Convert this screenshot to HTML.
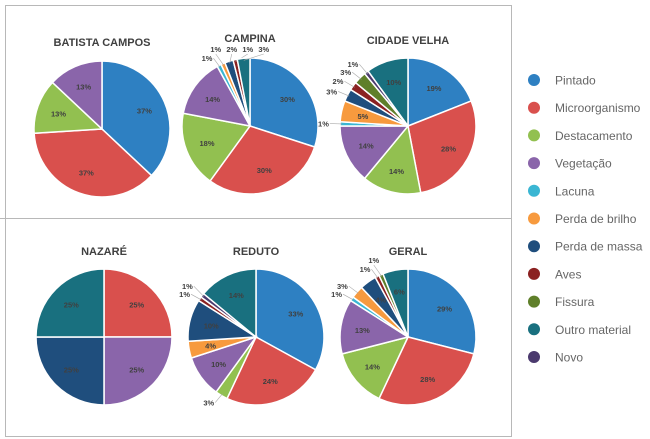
<!DOCTYPE html>
<html><head><meta charset="utf-8"><style>
body{margin:0;background:#fff;width:650px;height:439px;overflow:hidden;font-family:"Liberation Sans",sans-serif}
svg{position:absolute;left:0;top:0}
</style></head><body>
<svg id="chart" width="650" height="439">
<rect x="5.5" y="5.5" width="506" height="431" fill="none" stroke="#b8b8b8"/>
<line x1="0" y1="218.5" x2="511" y2="218.5" stroke="#b8b8b8"/>
</svg>
<script>
const categories=["Pintado","Microorganismo","Destacamento","Vegetação","Lacuna","Perda de brilho","Perda de massa","Aves","Fissura","Outro material","Novo"];
const colors=["#2e80c2","#d9504d","#92c050","#8a65aa","#3ab6d3","#f79a3e","#1f4e7d","#8b2121","#5f7f2a","#19707f","#4b3a6e"];
const pieTitles=["BATISTA CAMPOS","CAMPINA","CIDADE VELHA","NAZARÉ","REDUTO","GERAL"];
// series values per pie, order of drawing (clockwise from top) in category indices
const batistaCats=[0,1,2,3];const batistaVals=[37,37,13,13];
const campinaCats=[0,1,2,3,4,5,6,7,9];const campinaVals=[30,30,18,14,1,1,2,1,3];
const cidadeCats=[0,1,2,3,4,5,6,7,8,10,9];const cidadeVals=[19,28,14,14,1,5,3,2,3,1,10];
const nazareCats=[1,3,6,9];const nazareVals=[25,25,25,25];
const redutoCats=[0,1,2,3,5,6,7,10,9];const redutoVals=[33,24,3,10,4,10,1,1,14];
const geralCats=[0,1,2,3,4,5,6,7,8,9];const geralVals=[29,28,14,13,1,3,4,1,1,6];
const pieCats=[batistaCats,campinaCats,cidadeCats,nazareCats,redutoCats,geralCats];
const pieVals=[batistaVals,campinaVals,cidadeVals,nazareVals,redutoVals,geralVals];
const centers=[[102,129],[250,126],[408,126],[104,337],[256,337],[408,337]];
const titleY=[46,42,44,255,255,255];
const R=68;
const NS="http://www.w3.org/2000/svg";
const svg=document.getElementById('chart');
function mk(t,a){const e=document.createElementNS(NS,t);for(const k in a)e.setAttribute(k,a[k]);return e;}
function pt(cx,cy,r,a){return [cx+r*Math.cos(a),cy+r*Math.sin(a)];}
pieVals.forEach((vals,p)=>{
  const cats=pieCats[p];const [cx,cy]=centers[p];
  const g=mk('g',{});
  
  
  svg.appendChild(g);
  const t=mk('text',{x:cx,y:titleY[p],'text-anchor':'middle','font-size':'11','font-weight':'bold',fill:'#404040'});
  t.textContent=pieTitles[p];
  
  
  g.appendChild(t);
  const total=vals.reduce((a,b)=>a+b,0);
  let a0=-Math.PI/2;let lastY=1e9;let lastX=-1e9;
  vals.forEach((v,i)=>{
    const a1=a0+v/total*2*Math.PI;
    const s=pt(cx,cy,R,a0),e=pt(cx,cy,R,a1);
    const large=(a1-a0)>Math.PI?1:0;
    const path=mk('path',{d:`M${cx},${cy}L${s[0]},${s[1]}A${R},${R} 0 ${large} 1 ${e[0]},${e[1]}Z`,fill:colors[cats[i]],stroke:'#fff','stroke-width':'1.5'});
    
    
    g.appendChild(path);
    const am=(a0+a1)/2;const lbl=mk('text',{'font-size':'7.5','font-weight':'bold',fill:'#404040'});
    lbl.textContent=v+'%';
    if(v>=4){
      const q=pt(cx,cy,R*0.68,am);
      lbl.setAttribute('x',q[0]);lbl.setAttribute('y',q[1]+3);lbl.setAttribute('text-anchor','middle');
    }else{
      const q2=pt(cx,cy,R*0.97,am);
      let q=pt(cx,cy,R*1.12,am);
      const nearTop=Math.sin(am)<-0.9;
      let tx,ty,anchor;
      if(nearTop){
        ty=Math.min(q[1],cy-R-6);
        tx=Math.max(q[0]-4,lastX+16);lastX=tx;anchor='middle';
        ty=cy-R-6;
      }else if(Math.cos(am)>0.3){
        tx=q[0]+2;ty=q[1];anchor='start';
      }else{
        ty=Math.min(q[1],lastY-8);lastY=ty;
        tx=cx+Math.cos(am)*R*1.12-3;anchor='end';
      }
      const ex=anchor==='end'?tx+1:(anchor==='start'?tx-1:tx);
      const ln=mk('polyline',{points:`${q2[0]},${q2[1]} ${ex},${ty+ (nearTop?2:0)}`,fill:'none',stroke:'#aaa','stroke-width':'0.6'});
      
      
      g.appendChild(ln);
      lbl.setAttribute('x',tx);lbl.setAttribute('y',ty+(nearTop?0:3));lbl.setAttribute('text-anchor',anchor);
    }
    
    
    g.appendChild(lbl);
    a0=a1;
  });
});
const lg=mk('g',{});


svg.appendChild(lg);
categories.forEach((c,i)=>{
  const y=80+i*27.7;
  const gi=mk('g',{});
  
  
  lg.appendChild(gi);
  gi.appendChild(mk('circle',{cx:534,cy:y,r:6,fill:colors[i]}));
  const t=mk('text',{x:555,y:y+4.5,'font-size':'12',fill:'#666'});
  t.textContent=c;gi.appendChild(t);
});
</script>
</body></html>
